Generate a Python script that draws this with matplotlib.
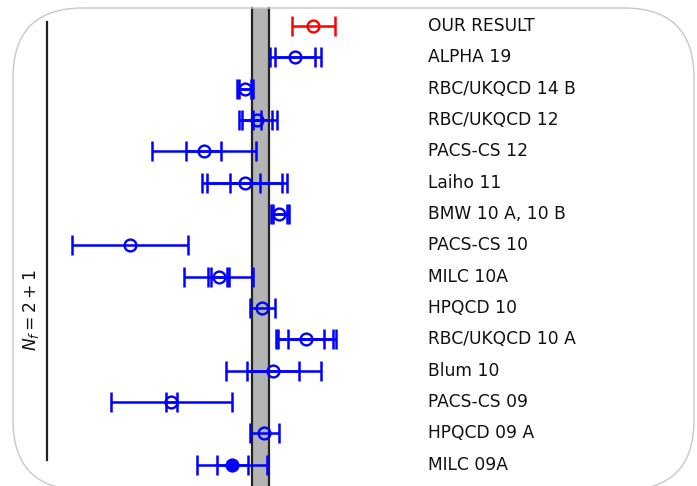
import numpy as np
import matplotlib.pyplot as plt
from matplotlib.patches import FancyBboxPatch
from matplotlib.transforms import IdentityTransform, blended_transform_factory

# collaborations, top to bottom
labels = ['OUR RESULT', 'ALPHA 19', 'RBC/UKQCD 14 B', 'RBC/UKQCD 12', 'PACS-CS 12',
          'Laiho 11', 'BMW 10 A, 10 B', 'PACS-CS 10', 'MILC 10A', 'HPQCD 10',
          'RBC/UKQCD 10 A', 'Blum 10', 'PACS-CS 09', 'HPQCD 09 A', 'MILC 09A']

central = [1.2142, 1.2070, 1.1868, 1.1918, 1.1704,
           1.1870, 1.2006, 1.1410, 1.1766, 1.1938,
           1.2114, 1.1982, 1.1574, 1.1946, 1.1818]

# total errors (lower, upper)
tot_lo = [0.0084, 0.0100, 0.0030, 0.0072, 0.0206, 0.0172, 0.0032, 0.0232,
          0.0140, 0.0048, 0.0120, 0.0188, 0.0240, 0.0056, 0.0140]
tot_hi = [0.0088, 0.0104, 0.0034, 0.0080, 0.0210, 0.0168, 0.0040, 0.0232,
          0.0136, 0.0052, 0.0120, 0.0192, 0.0244, 0.0060, 0.0140]

# partial errors (0 = not shown)
mid_lo = [0, 0, 0, 0.0060, 0, 0.0152, 0, 0, 0.0044, 0, 0.0112, 0, 0, 0, 0]
mid_hi = [0, 0, 0, 0.0060, 0, 0.0148, 0, 0, 0.0040, 0, 0.0108, 0, 0, 0, 0]

# statistical errors (0 = not shown)
stat_lo = [0, 0.0080, 0.0022, 0.0016, 0.0070, 0.0060, 0.0024, 0,
           0.0032, 0, 0.0072, 0.0104, 0.0020, 0, 0.0060]
stat_hi = [0, 0.0080, 0.0026, 0.0016, 0.0070, 0.0060, 0.0032, 0,
           0.0032, 0, 0.0072, 0.0104, 0.0024, 0, 0.0064]

filled = [False] * 14 + [True]
colors = ['red'] + ['blue'] * 14

band_center = 1.1932
band_err = 0.0034

fig = plt.figure(figsize=(6.97, 4.86), dpi=100)
ax = fig.add_axes([0, 0, 1, 1])
ax.axis('off')
ax.set_xlim(1.089, 1.3678)
ax.set_ylim(14.68, -0.83)

# average band
ax.axvspan(band_center - band_err, band_center + band_err, ymin=0, ymax=0.9835,
           facecolor='#b4b4b4', edgecolor='none', zorder=1)
for xv in (band_center - band_err, band_center + band_err):
    ax.axvline(xv, ymin=0, ymax=0.9835, color='#222222', lw=1.6, zorder=2)

ypos = np.arange(len(labels))
for i in range(len(labels)):
    c = colors[i]
    kw = dict(fmt='none', ecolor=c, elinewidth=1.8, capsize=7, capthick=1.8, zorder=3)
    ax.errorbar(central[i], ypos[i], xerr=[[tot_lo[i]], [tot_hi[i]]], **kw)
    if mid_lo[i] > 0:
        ax.errorbar(central[i], ypos[i], xerr=[[mid_lo[i]], [mid_hi[i]]], **kw)
    if stat_lo[i] > 0:
        ax.errorbar(central[i], ypos[i], xerr=[[stat_lo[i]], [stat_hi[i]]], **kw)
    ax.plot(central[i], ypos[i], 'o', ms=8.5, mew=1.7, mec=c,
            mfc=c if filled[i] else 'none', zorder=4)

lab_tr = blended_transform_factory(ax.transAxes, ax.transData)
for i, lab in enumerate(labels):
    ax.text(0.614, ypos[i], lab, transform=lab_tr, ha='left', va='center',
            fontsize=12.3, color='#111111')

# bracket for the N_f = 2+1 group
ax.plot([0.0674, 0.0674], [1 - 22 / 486, 1 - 460 / 486], transform=ax.transAxes,
        color='#222222', lw=1.6, zorder=2)
ax.text(0.045, 1 - 310 / 486, r'$N_f = 2 + 1$', transform=ax.transAxes,
        rotation=90, ha='center', va='center', fontsize=12.3, color='#111111')

# rounded frame
frame = FancyBboxPatch((13, -4), 681, 482, boxstyle='round,pad=0,rounding_size=70',
                       transform=IdentityTransform(), fill=False,
                       edgecolor='#c8c8c8', lw=1.0, zorder=5)
fig.patches.append(frame)

fig.savefig('out.png', dpi=100)
